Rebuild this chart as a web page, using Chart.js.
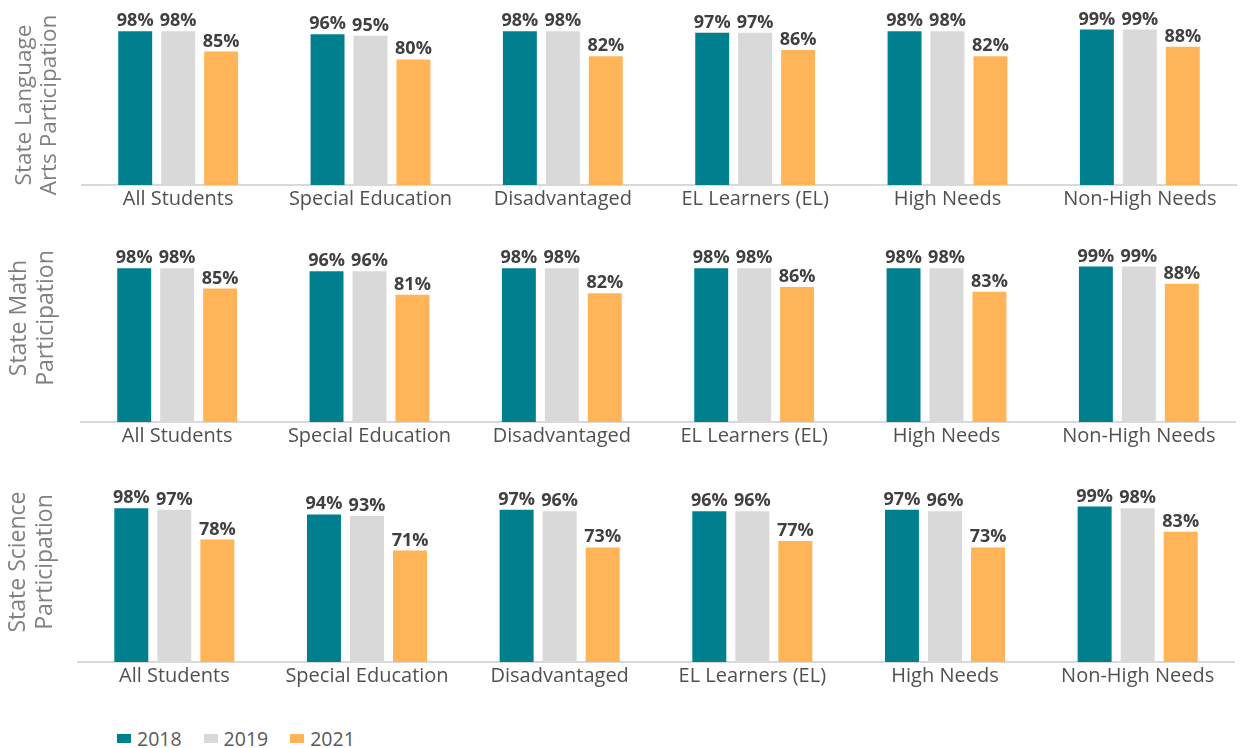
<!DOCTYPE html>
<html>
<head>
<meta charset="utf-8">
<script src="https://cdn.jsdelivr.net/npm/chart.js@4.4.0/dist/chart.umd.min.js"></script>
<style>
  html, body { margin: 0; padding: 0; background: #fff; width: 1241px; height: 748px; overflow: hidden; }
  .panel { position: absolute; left: 0; width: 1241px; height: 215px; }
  .ytitle { position: absolute; transform: translate(-50%, -50%) rotate(-90deg); font-family: "Open Sans", sans-serif; color: #808080; text-align: center; white-space: nowrap; }
  #legend { position: absolute; left: 117px; top: 725px; font: 19.5px "Open Sans", sans-serif; color: #595959; white-space: nowrap; }
  #legend span.item { display: inline-block; margin-right: 22px; }
  #legend span.box { display: inline-block; width: 14px; height: 9px; margin-right: 6px; vertical-align: 3px; }
</style>
</head>
<body>
<div class="panel" style="top:0px"><canvas id="chartEla" width="1241" height="215"></canvas></div>
<div class="panel" style="top:237px"><canvas id="chartMath" width="1241" height="215"></canvas></div>
<div class="panel" style="top:477px"><canvas id="chartSci" width="1241" height="215"></canvas></div>
<div id="titles"></div>
<div id="legend"></div>
<script>
const categories = ['All Students', 'Special Education', 'Disadvantaged', 'EL Learners (EL)', 'High Needs', 'Non-High Needs'];
const years = ['2018', '2019', '2021'];
const yearColors = ['#00808f', '#d9d9d9', '#ffb457'];

const ela2018 = [98, 96, 98, 97, 98, 99];
const ela2019 = [98, 95, 98, 97, 98, 99];
const ela2021 = [85, 80, 82, 86, 82, 88];

const math2018 = [98, 96, 98, 98, 98, 99];
const math2019 = [98, 96, 98, 98, 98, 99];
const math2021 = [85, 81, 82, 86, 83, 88];

const sci2018 = [98, 94, 97, 96, 97, 99];
const sci2019 = [97, 93, 96, 96, 96, 98];
const sci2021 = [78, 71, 73, 77, 73, 83];

const elaTitle = ['State Language', 'Arts Participation'];
const mathTitle = ['State Math', 'Participation'];
const sciTitle = ['State Science', 'Participation'];

const fontFamily = '"Open Sans", "Noto Sans", sans-serif';

// percent labels above every bar
const valueLabels = {
    id: 'valueLabels',
    afterDatasetsDraw(chart) {
        const ctx = chart.ctx;
        ctx.save();
        ctx.font = 'bold 18px ' + fontFamily;
        ctx.fillStyle = '#404040';
        ctx.textAlign = 'center';
        ctx.textBaseline = 'alphabetic';
        chart.data.datasets.forEach((ds, i) => {
            chart.getDatasetMeta(i).data.forEach((bar, j) => {
                ctx.fillText(ds.data[j] + '%', bar.x, bar.y - 5);
            });
        });
        ctx.restore();
    }
};

function makePanel(canvasId, series, left, right) {
    const ctx = document.getElementById(canvasId).getContext('2d');
    return new Chart(ctx, {
        type: 'bar',
        data: {
            labels: categories,
            datasets: series.map((values, i) => ({
                label: years[i],
                data: values,
                backgroundColor: yearColors[i],
                borderWidth: 0,
                categoryPercentage: 0.67,
                barPercentage: 0.79
            }))
        },
        options: {
            responsive: false,
            animation: false,
            layout: { padding: { top: 28, right: 1241 - right, bottom: 0, left: 0 } },
            plugins: { legend: { display: false }, tooltip: { enabled: false } },
            scales: {
                x: {
                    grid: { display: false, drawTicks: false },
                    border: { display: true, color: '#d9d9d9', width: 2 },
                    ticks: { color: '#505050', font: { family: fontFamily, size: 20 }, padding: 2, maxRotation: 0, autoSkip: false },
                    afterFit(scale) { scale.height = 30; }
                },
                y: {
                    min: 0, max: 100,
                    grid: { display: false, drawTicks: false },
                    border: { display: false },
                    ticks: { display: false },
                    afterFit(scale) { scale.width = left; }
                }
            }
        },
        plugins: [valueLabels]
    });
}

makePanel('chartEla', [ela2018, ela2019, ela2021], 82, 1236);
makePanel('chartMath', [math2018, math2019, math2021], 81, 1235);
makePanel('chartSci', [sci2018, sci2019, sci2021], 78, 1234);

// rotated panel titles
function addTitle(lines, cx, cy, size, lineHeight) {
    const el = document.createElement('div');
    el.className = 'ytitle';
    el.style.left = cx + 'px';
    el.style.top = cy + 'px';
    el.style.fontSize = size + 'px';
    el.style.lineHeight = lineHeight + 'px';
    el.innerHTML = lines.join('<br>');
    document.getElementById('titles').appendChild(el);
}
addTitle(elaTitle, 34.5, 105, 22.5, 25);
addTitle(mathTitle, 31, 318, 23, 27);
addTitle(sciTitle, 29.5, 562, 23, 27);

document.getElementById('legend').innerHTML = years.map((y, i) =>
    `<span class="item"><span class="box" style="background:${yearColors[i]}"></span>${y}</span>`
).join('');
</script>
</body>
</html>
